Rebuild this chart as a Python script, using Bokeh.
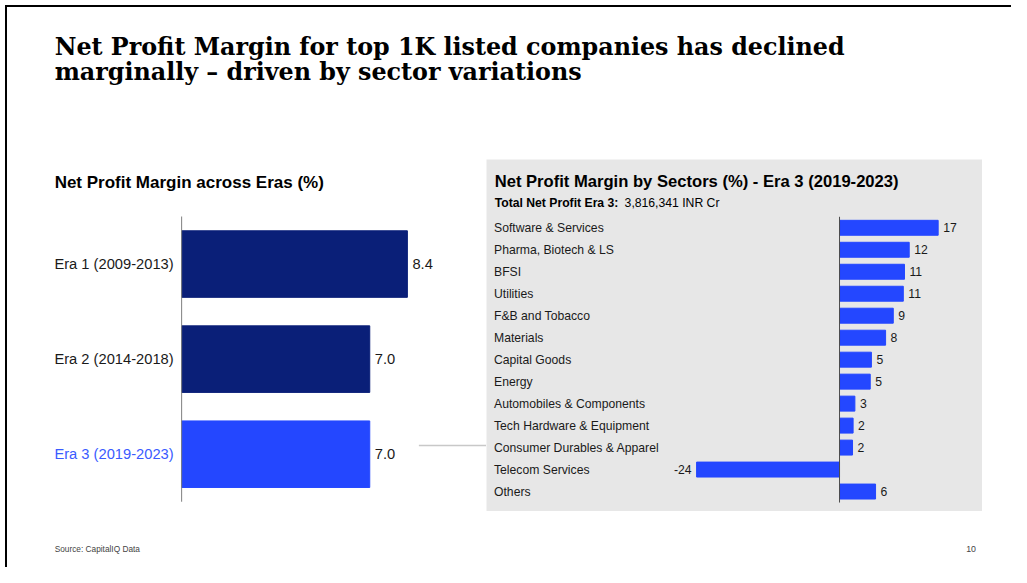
from bokeh.plotting import figure
from bokeh.models import Range1d, Label, ColumnDataSource, Spacer
from bokeh.layouts import column, row
from bokeh.embed import file_html
from bokeh.resources import INLINE
from bokeh.core.properties import value

# ---------------- data ----------------
title_lines = ["Net Profit Margin for top 1K listed companies has declined",
               "marginally \u2013 driven by sector variations"]
left_title = "Net Profit Margin across Eras (%)"
era_labels = ["Era 1 (2009-2013)", "Era 2 (2014-2018)", "Era 3 (2019-2023)"]
era_values = [8.4, 7.0, 7.0]

right_title = "Net Profit Margin by Sectors (%) - Era 3 (2019-2023)"
total_label = "Total Net Profit Era 3:"
total_value = "3,816,341 INR Cr"
sectors = ["Software & Services", "Pharma, Biotech & LS", "BFSI", "Utilities",
           "F&B and Tobacco", "Materials", "Capital Goods", "Energy",
           "Automobiles & Components", "Tech Hardware & Equipment",
           "Consumer Durables & Apparel", "Telecom Services", "Others"]
sector_values = [16.7, 11.8, 11.0, 10.8, 9.1, 7.8, 5.4, 5.2, 2.6, 2.3, 2.2, -24.2, 6.1]

source_note = "Source: CapitalIQ Data"
page_number = "10"

# ---------------- style ----------------
SANS = "Liberation Sans"
SERIF = "DejaVu Serif"
NAVY = "#0a1f78"
BLUE = "#2447ff"
LABEL_BLUE = "#3a5bff"
TEXT = "#1a1a1a"
PANEL = "#e7e7e7"

W, H = 1011, 567                 # canvas size
SX, SY = W / 1027, H / 583       # reference-page -> canvas scale
FS = (SX + SY) / 2


def fs(px):
    return f"{px * FS:.1f}px"


def make_fig(cx0, cx1, cy0, cy1, zero=None, ppu=None, c0=None, row_h=None, bg="white"):
    rx0, rx1, ry0, ry1 = cx0 / SX, cx1 / SX, cy0 / SY, cy1 / SY
    if zero is None:
        xr, yr = Range1d(0, 1), Range1d(0, 1)
    else:
        xr = Range1d((rx0 - zero) / ppu, (rx1 - zero) / ppu)
        yr = Range1d((ry1 - c0) / row_h, (ry0 - c0) / row_h)
    p = figure(width=cx1 - cx0, height=cy1 - cy0, x_range=xr, y_range=yr,
               output_backend="svg", toolbar_location=None, min_border=0,
               x_axis_location=None, y_axis_location=None)
    # reference-pixel helper ranges for annotations
    p.extra_x_ranges = {"px": Range1d(rx0, rx1)}
    p.extra_y_ranges = {"px": Range1d(ry1, ry0)}
    p.grid.visible = False
    p.outline_line_color = None
    p.background_fill_color = bg
    p.border_fill_color = bg
    return p


def label(p, x, y, text, size, bold=False, font=SANS, color="black"):
    p.add_layout(Label(x=x, y=y, x_range_name="px", y_range_name="px", text=text,
                       text_font=font, text_font_style="bold" if bold else "normal",
                       text_font_size=fs(size), text_color=color,
                       text_baseline="alphabetic"))


# canvas layout (content starts after the frame lines)
X0, Y0 = 7, 7
Y_HEAD = round(163 * SY)
Y_FOOT = round(525 * SY)
X_MID = round(494 * SX)
X_PANEL_END = round(998 * SX)

# ---------------- header ----------------
header = make_fig(X0, W, Y0, Y_HEAD)
for i, t in enumerate(title_lines):
    label(header, 55, 47.5 + 26.5 * i, t, 24.3, bold=True, font=SERIF)

# ---------------- left chart ----------------
left = make_fig(X0, X_MID, Y_HEAD, Y_FOOT, zero=184, ppu=27.3, c0=271, row_h=97.75)
idx_l = list(range(len(era_labels)))
src_l = ColumnDataSource(dict(
    y=idx_l, v=era_values, lab=era_labels,
    txt=[f"{v:.1f}" for v in era_values],
    col=[NAVY, NAVY, BLUE],
    lcol=[TEXT, TEXT, LABEL_BLUE]))
left.hbar(y="y", left=0, right="v", height=0.70, fill_color="col",
          line_color="col", source=src_l)
left.segment(x0=0, x1=0, y0=-0.5, y1=len(era_labels) - 0.5, line_color="#7f7f7f",
             line_width=1)
left.text(x=0, y="y", text="lab", source=src_l, x_offset=-8, text_align="right",
          text_baseline="middle", text_color="lcol", text_font=value(SANS),
          text_font_size=fs(15))
left.text(x="v", y="y", text="txt", source=src_l, x_offset=5, text_align="left",
          text_baseline="middle", text_color=TEXT, text_font=value(SANS),
          text_font_size=fs(15))
label(left, 55, 187.5, left_title, 17.4, bold=True)
# connector to the sector panel
left.segment(x0=425, x1=500, y0=457.5, y1=457.5, line_color="#c8c8c8", line_width=1.5,
             x_range_name="px", y_range_name="px")

# ---------------- right chart ----------------
right = make_fig(X_MID, X_PANEL_END, Y_HEAD, Y_FOOT, zero=852.3, ppu=6.0, c0=233.7,
                 row_h=22.6, bg=PANEL)
idx_r = list(range(len(sectors)))
src_r = ColumnDataSource(dict(y=idx_r, v=sector_values, lab=sectors))
right.hbar(y="y", left=0, right="v", height=0.68, fill_color=BLUE, line_color=BLUE,
           source=src_r)
right.segment(x0=0, x1=0, y0=-0.5, y1=len(sectors) - 0.5, line_color="#4d4d4d",
              line_width=1)
right.text(x=right.x_range.start, y="y", text="lab", source=src_r, x_offset=7.5,
           text_align="left", text_baseline="middle", text_color=TEXT,
           text_font=value(SANS), text_font_size=fs(12.5))
pos = [i for i, v in enumerate(sector_values) if v >= 0]
neg = [i for i, v in enumerate(sector_values) if v < 0]
src_pos = ColumnDataSource(dict(y=pos, v=[sector_values[i] for i in pos],
                                txt=[f"{round(sector_values[i]):d}" for i in pos]))
src_neg = ColumnDataSource(dict(y=neg, v=[sector_values[i] for i in neg],
                                txt=[f"{round(sector_values[i]):d}" for i in neg]))
right.text(x="v", y="y", text="txt", source=src_pos, x_offset=5, text_align="left",
           text_baseline="middle", text_color=TEXT, text_font=value(SANS),
           text_font_size=fs(12.5))
right.text(x="v", y="y", text="txt", source=src_neg, x_offset=-5, text_align="right",
           text_baseline="middle", text_color=TEXT, text_font=value(SANS),
           text_font_size=fs(12.5))
label(right, 502, 186, right_title, 17, bold=True)
label(right, 502, 208.5, total_label, 12.5, bold=True)
label(right, 634, 208.5, total_value, 12.5)

# ---------------- footer ----------------
footer = make_fig(X0, W, Y_FOOT, H)
label(footer, 55, 563.5, source_note, 8.5, color="#444444")
label(footer, 981, 564, page_number, 9, color="#444444")

# ---------------- page frame (top and left rules) ----------------
BLACK = {"background-color": "black"}
content = column(
    Spacer(width=W - X0, height=2, styles=BLACK),
    header,
    row(left, right, Spacer(width=W - X_PANEL_END, height=Y_FOOT - Y_HEAD)),
    footer,
)
page = column(
    Spacer(width=W, height=Y0 - 2),
    row(Spacer(width=X0 - 2, height=H - Y0 + 2),
        Spacer(width=2, height=H - Y0 + 2, styles=BLACK),
        content),
)

with open("out.html", "w") as f:
    f.write(file_html(page, INLINE))
